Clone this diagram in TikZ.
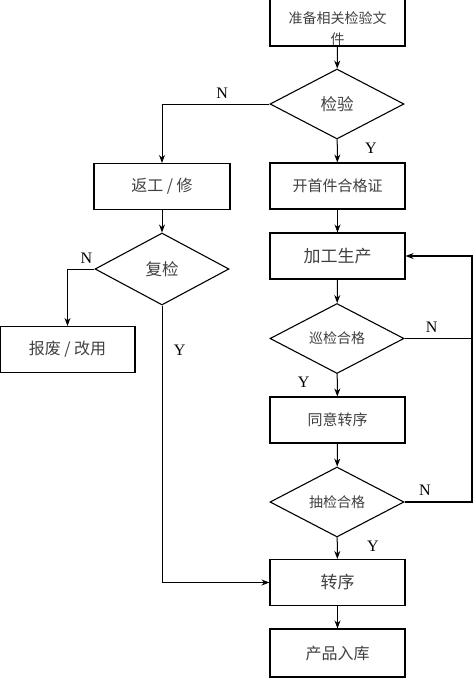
\documentclass[tikz,border=0pt]{standalone}
\usepackage{fontspec}
\setmainfont{Liberation Serif}
\newfontfamily\cjk{Noto Sans CJK SC}
\usetikzlibrary{shapes.geometric, arrows.meta}

\begin{document}
\begin{tikzpicture}[x=1pt, y=-1pt,
                    stepbox/.style={rectangle, draw, line width=1.1pt, inner sep=0pt,
                                    minimum width=135pt, minimum height=46pt,
                                    text=black!75, font=\cjk\fontsize{15pt}{21pt}\selectfont},
                    check/.style={diamond, draw, line width=1.1pt, inner sep=0pt,
                                  minimum width=134pt, minimum height=70pt,
                                  text=black!75, font=\cjk\fontsize{14pt}{16pt}\selectfont},
                    flow/.style={-{Stealth[length=8pt, width=6pt]}, line width=1pt},
                    yn/.style={font=\fontsize{16pt}{16pt}\selectfont}]
  \useasboundingbox (0, 0) rectangle (474, 678);

  % Main column.
  \node at (337.5, 22) [stepbox, minimum height=48pt, align=center, font=\cjk\fontsize{14pt}{21pt}\selectfont,
                        name=Prepare] {\rule{0pt}{25pt}准备相关检验文\\件};
  \node at (337, 104) [check, font=\cjk\fontsize{16.5pt}{18pt}\selectfont, name=Inspect] {检验};
  \node at (337.5, 186) [stepbox, name=Certificate] {开首件合格证};
  \node at (337.5, 256) [stepbox, font=\cjk\fontsize{17pt}{19pt}\selectfont, name=Produce] {加工生产};
  \node at (337, 338.5) [check, name=Patrol] {巡检合格};
  \node at (337.5, 420) [stepbox, name=Pass] {同意转序};
  \node at (337, 502) [check, name=Sample] {抽检合格};
  \node at (337.5, 582.5) [stepbox, font=\cjk\fontsize{17pt}{19pt}\selectfont, name=Transfer] {转序};
  \node at (337.5, 653) [stepbox, minimum height=48pt, font=\cjk\fontsize{16pt}{18pt}\selectfont, name=Store] {产品入库};

  % Rework branch.
  \node at (162, 186.5) [stepbox, minimum width=136pt, font=\cjk\fontsize{16pt}{18pt}\selectfont, name=Rework] {返工 / 修};
  \node at (162, 269) [check, minimum height=72pt, font=\cjk\fontsize{16.5pt}{18pt}\selectfont, name=Recheck] {复检};
  \node at (67.5, 349.5) [stepbox, font=\cjk\fontsize{16pt}{18pt}\selectfont, name=Scrap] {报废 / 改用};

  % Location for the return loop to production.
  \coordinate (loop) at (472, 502);

  % Straight steps.
  \draw [flow] (Prepare) to (Inspect);
  \draw [flow] (Inspect) to node [yn, pos=0.4, right=24pt] {Y} (Certificate);
  \draw [flow] (Certificate) to (Produce);
  \draw [flow] (Produce) to (Patrol);
  \draw [flow] (Patrol) to node [yn, pos=0.35, left=24pt] {Y} (Pass);
  \draw [flow] (Pass) to (Sample);
  \draw [flow] (Sample) to node [yn, pos=0.4, right=26pt] {Y} (Transfer);
  \draw [flow] (Transfer) to (Store);
  \draw [flow] (Rework) to (Recheck);

  % Branches.
  \draw [flow] (Inspect.west) -| node [yn, pos=0.22, above=2pt] {N} (Rework.north);
  \draw [flow] (Recheck.west) -| node [yn, pos=0.15, above=2pt] {N} (Scrap.north);
  \draw [flow] (Recheck.south) |- node [yn, pos=0.08, right=8pt] {Y} (Transfer.west);

  % Return loop.
  \draw [line width=1pt] (Patrol.east) -- node [yn, pos=0.4, above=2pt] {N} (Patrol.east -| loop);
  \draw [flow, line width=1.6pt] (Sample.east) -- node [yn, pos=0.3, above=2pt] {N} (loop) |- (Produce.east);
\end{tikzpicture}
\end{document}
